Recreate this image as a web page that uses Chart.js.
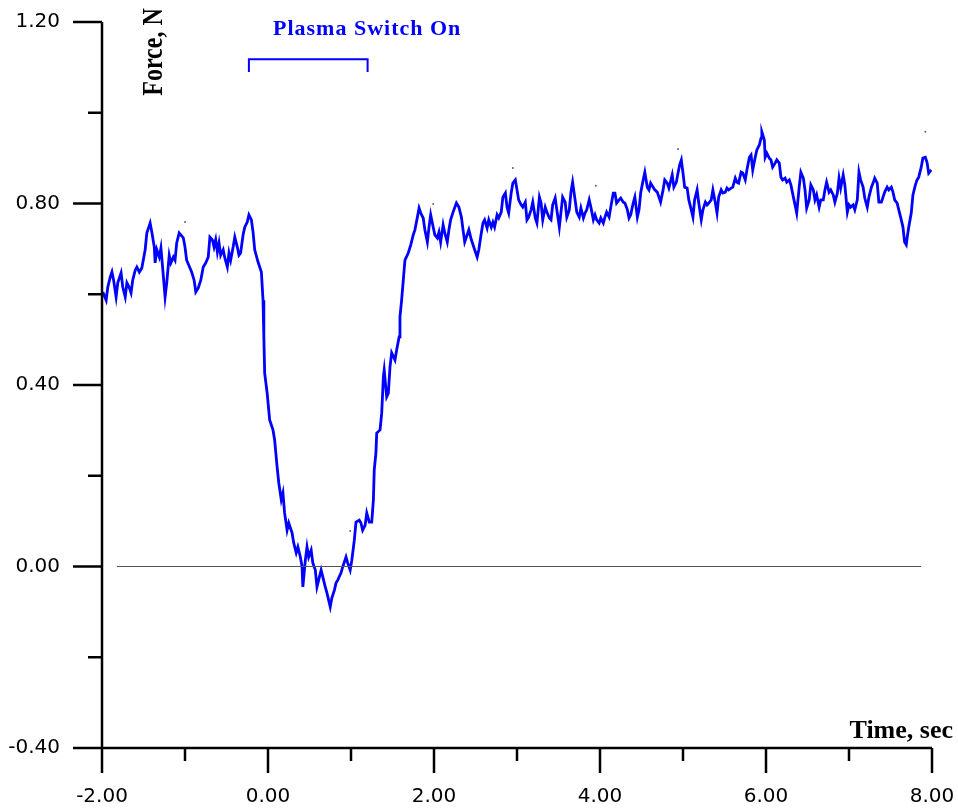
<!DOCTYPE html>
<html lang="en">
<head>
    <meta charset="UTF-8">
    <title>Force, N vs Time, sec</title>
    <script src="https://cdn.jsdelivr.net/npm/chart.js"></script>
    <style>
* {
    margin: 0;
    padding: 0;
    box-sizing: border-box;
}

body {
    background: #ffffff;
}

#wrap {
    width: 958px;
    height: 811px;
    position: relative;
}
    </style>
</head>
<body>
    <div id="wrap">
        <canvas id="forceChart"></canvas>
    </div>

    <script>
        // time axis, seconds
        const time = [
            -1.99,-1.95,-1.93,-1.90,-1.88,-1.86,-1.83,-1.81,-1.77,-1.75,
            -1.72,-1.70,-1.67,-1.65,-1.63,-1.60,-1.58,-1.55,-1.52,-1.48,
            -1.46,-1.42,-1.40,-1.37,-1.36,-1.34,-1.31,-1.29,-1.27,-1.24,
            -1.22,-1.19,-1.17,-1.14,-1.12,-1.10,-1.07,-1.05,-1.02,-1.00,
            -0.98,-0.94,-0.92,-0.89,-0.87,-0.84,-0.81,-0.78,-0.75,-0.72,
            -0.70,-0.67,-0.65,-0.63,-0.61,-0.59,-0.57,-0.54,-0.52,-0.49,
            -0.47,-0.45,-0.42,-0.40,-0.37,-0.35,-0.33,-0.30,-0.28,-0.25,
            -0.23,-0.20,-0.18,-0.16,-0.12,-0.08,-0.06,-0.05,-0.04,-0.01,
            0.02,0.06,0.08,0.11,0.13,0.16,0.18,0.20,0.23,0.25,
            0.29,0.31,0.34,0.36,0.39,0.41,0.42,0.45,0.47,0.49,
            0.52,0.54,0.57,0.59,0.61,0.64,0.66,0.69,0.71,0.75,
            0.77,0.80,0.82,0.84,0.88,0.90,0.94,0.96,0.99,1.01,
            1.04,1.06,1.10,1.12,1.14,1.17,1.19,1.22,1.25,1.27,
            1.28,1.30,1.31,1.35,1.37,1.39,1.40,1.43,1.45,1.47,
            1.49,1.53,1.55,1.58,1.59,1.61,1.63,1.65,1.69,1.72,
            1.75,1.77,1.80,1.82,1.84,1.87,1.89,1.92,1.94,1.96,
            1.99,2.01,2.04,2.06,2.08,2.11,2.13,2.16,2.18,2.20,
            2.23,2.27,2.30,2.33,2.35,2.37,2.40,2.42,2.45,2.47,
            2.49,2.52,2.54,2.57,2.59,2.61,2.64,2.66,2.69,2.71,
            2.73,2.76,2.78,2.81,2.83,2.86,2.88,2.90,2.93,2.95,
            2.98,3.00,3.02,3.05,3.07,3.10,3.12,3.14,3.17,3.19,
            3.22,3.24,3.27,3.29,3.31,3.34,3.36,3.39,3.41,3.43,
            3.46,3.48,3.51,3.53,3.55,3.58,3.60,3.63,3.65,3.67,
            3.70,3.72,3.75,3.77,3.80,3.82,3.84,3.87,3.89,3.92,
            3.94,3.96,3.99,4.01,4.04,4.06,4.08,4.11,4.13,4.16,
            4.18,4.20,4.23,4.25,4.28,4.30,4.33,4.35,4.37,4.40,
            4.42,4.45,4.47,4.49,4.52,4.54,4.57,4.59,4.61,4.64,
            4.66,4.69,4.71,4.73,4.76,4.78,4.81,4.83,4.87,4.89,
            4.92,4.94,4.96,4.98,5.00,5.02,5.05,5.07,5.10,5.12,
            5.14,5.17,5.19,5.22,5.24,5.27,5.29,5.31,5.34,5.36,
            5.39,5.41,5.43,5.46,5.48,5.51,5.53,5.55,5.58,5.60,
            5.63,5.65,5.67,5.70,5.72,5.75,5.77,5.80,5.82,5.84,
            5.87,5.89,5.92,5.94,5.95,5.98,5.99,6.01,6.04,6.06,
            6.08,6.11,6.13,6.16,6.18,6.20,6.23,6.25,6.28,6.30,
            6.33,6.35,6.37,6.40,6.42,6.45,6.47,6.49,6.52,6.54,
            6.57,6.59,6.61,6.64,6.66,6.69,6.71,6.73,6.76,6.78,
            6.81,6.83,6.86,6.88,6.90,6.93,6.95,6.98,7.00,7.02,
            7.05,7.07,7.10,7.12,7.14,7.17,7.19,7.22,7.24,7.27,
            7.29,7.31,7.34,7.36,7.39,7.41,7.43,7.46,7.48,7.51,
            7.53,7.55,7.58,7.60,7.63,7.65,7.67,7.69,7.70,7.72,
            7.75,7.77,7.80,7.82,7.84,7.87,7.89,7.92,7.94,7.96,
            7.99
        ];

        // force, N
        const force = [
            0.605,0.587,0.616,0.638,0.649,0.631,0.594,0.625,0.647,0.616,
            0.594,0.625,0.614,0.603,0.631,0.653,0.660,0.649,0.658,0.698,
            0.735,0.757,0.737,0.704,0.669,0.698,0.682,0.702,0.660,0.594,
            0.625,0.686,0.669,0.682,0.675,0.713,0.735,0.731,0.724,0.704,
            0.675,0.658,0.649,0.631,0.605,0.614,0.631,0.660,0.669,0.682,
            0.726,0.720,0.704,0.720,0.693,0.713,0.686,0.698,0.680,0.660,
            0.691,0.675,0.704,0.726,0.704,0.686,0.691,0.731,0.748,0.759,
            0.775,0.764,0.737,0.698,0.671,0.649,0.587,0.506,0.426,0.382,
            0.323,0.301,0.279,0.219,0.184,0.147,0.162,0.118,0.080,0.096,
            0.074,0.052,0.030,0.043,0.021,0.000,-0.045,0.014,0.043,0.021,
            0.036,0.008,-0.008,-0.045,-0.030,-0.008,-0.023,-0.045,-0.058,-0.089,
            -0.069,-0.052,-0.036,-0.030,-0.014,-0.001,0.021,0.008,-0.008,0.014,
            0.058,0.098,0.102,0.096,0.080,0.091,0.118,0.098,0.098,0.147,
            0.213,0.250,0.294,0.301,0.338,0.418,0.433,0.374,0.382,0.440,
            0.471,0.455,0.477,0.506,0.550,0.587,0.631,0.675,0.691,0.709,
            0.731,0.742,0.770,0.790,0.779,0.768,0.742,0.715,0.748,0.775,
            0.748,0.731,0.724,0.737,0.715,0.753,0.735,0.715,0.742,0.764,
            0.781,0.801,0.792,0.770,0.742,0.715,0.731,0.742,0.720,0.709,
            0.698,0.682,0.698,0.735,0.757,0.764,0.746,0.764,0.748,0.759,
            0.748,0.775,0.768,0.781,0.814,0.823,0.792,0.779,0.823,0.845,
            0.852,0.830,0.808,0.797,0.792,0.803,0.764,0.770,0.786,0.803,
            0.768,0.757,0.814,0.801,0.764,0.792,0.781,0.768,0.764,0.797,
            0.812,0.786,0.748,0.781,0.814,0.803,0.770,0.786,0.825,0.847,
            0.808,0.781,0.770,0.790,0.768,0.779,0.786,0.808,0.792,0.764,
            0.775,0.764,0.757,0.768,0.757,0.770,0.781,0.770,0.792,0.823,
            0.823,0.801,0.808,0.812,0.803,0.801,0.786,0.768,0.775,0.801,
            0.814,0.770,0.786,0.823,0.852,0.869,0.836,0.830,0.845,0.836,
            0.830,0.825,0.814,0.803,0.830,0.852,0.845,0.834,0.863,0.836,
            0.847,0.867,0.885,0.896,0.867,0.836,0.834,0.808,0.786,0.770,
            0.808,0.830,0.801,0.764,0.786,0.803,0.797,0.801,0.808,0.830,
            0.801,0.779,0.814,0.830,0.823,0.825,0.834,0.830,0.834,0.836,
            0.856,0.847,0.845,0.869,0.867,0.852,0.874,0.902,0.907,0.874,
            0.902,0.918,0.929,0.944,0.958,0.940,0.902,0.911,0.900,0.896,
            0.880,0.889,0.896,0.889,0.858,0.852,0.856,0.847,0.852,0.841,
            0.814,0.797,0.779,0.836,0.869,0.856,0.830,0.790,0.808,0.841,
            0.830,0.808,0.819,0.792,0.808,0.808,0.830,0.847,0.825,0.830,
            0.819,0.803,0.823,0.856,0.834,0.863,0.841,0.781,0.797,0.792,
            0.797,0.786,0.808,0.869,0.852,0.836,0.812,0.792,0.814,0.836,
            0.845,0.856,0.845,0.803,0.803,0.814,0.825,0.836,0.830,0.836,
            0.825,0.808,0.801,0.786,0.764,0.748,0.715,0.709,0.724,0.748,
            0.779,0.819,0.841,0.852,0.858,0.880,0.900,0.902,0.891,0.867,
            0.874
        ];

        // little grey marks left by the recorder
        const markTime = [-1.00, 0.99, 1.99, 2.95, 3.95, 4.94, 7.92];
        const markForce = [0.759, 0.078, 0.799, 0.878, 0.839, 0.920, 0.958];

        // plasma on / off bracket
        const plasmaOn = -0.23;
        const plasmaOff = 1.20;
        const bracketTop = 1.118;
        const bracketFoot = 1.090;

        // zero reference line
        const zeroFrom = -1.82;
        const zeroTo = 7.87;

        // ticks
        const xMajor = [-2, 0, 2, 4, 6, 8];
        const xMinor = [-1, 1, 3, 5, 7];
        const yMajor = [-0.4, 0, 0.4, 0.8, 1.2];
        const yMinor = [-0.2, 0.2, 0.6, 1.0];

        const points = time.map((t, i) => ({ x: t, y: force[i] }));
        const marks = markTime.map((t, i) => ({ x: t, y: markForce[i] }));

        const axisDecor = {
            id: 'axisDecor',
            afterDraw(chart) {
                const ctx = chart.ctx;
                const xs = chart.scales.x;
                const ys = chart.scales.y;
                const left = xs.getPixelForValue(-2);
                const bottom = ys.getPixelForValue(-0.4);
                const top = ys.getPixelForValue(1.2);
                const right = xs.getPixelForValue(8);

                ctx.save();
                ctx.strokeStyle = '#000';
                ctx.lineWidth = 2.5;
                ctx.beginPath();
                // axis lines
                ctx.moveTo(left, top);
                ctx.lineTo(left, bottom);
                ctx.moveTo(left, bottom);
                ctx.lineTo(right, bottom);
                // y ticks
                yMajor.forEach(v => {
                    const p = ys.getPixelForValue(v);
                    ctx.moveTo(left - 29, p);
                    ctx.lineTo(left, p);
                });
                yMinor.forEach(v => {
                    const p = ys.getPixelForValue(v);
                    ctx.moveTo(left - 14, p);
                    ctx.lineTo(left, p);
                });
                // x ticks
                xMajor.forEach(v => {
                    const p = xs.getPixelForValue(v);
                    ctx.moveTo(p, bottom);
                    ctx.lineTo(p, bottom + 25);
                });
                xMinor.forEach(v => {
                    const p = xs.getPixelForValue(v);
                    ctx.moveTo(p, bottom);
                    ctx.lineTo(p, bottom + 13);
                });
                ctx.stroke();

                // axis titles
                ctx.fillStyle = '#000';
                ctx.font = 'bold 26px "Liberation Serif", serif';
                ctx.textAlign = 'right';
                ctx.textBaseline = 'alphabetic';
                ctx.fillText('Time, sec', right + 21, bottom - 10);

                ctx.save();
                ctx.translate(left + 60, top + 30);
                ctx.rotate(-Math.PI / 2);
                ctx.scale(1, 1.2);
                ctx.font = 'bold 24px "Liberation Serif", serif';
                ctx.textAlign = 'center';
                ctx.fillText('Force, N', 0, 0);
                ctx.restore();

                // annotation
                ctx.fillStyle = '#0000ff';
                ctx.font = 'bold 22px "Liberation Serif", serif';
                ctx.letterSpacing = '1px';
                ctx.textAlign = 'left';
                ctx.fillText('Plasma Switch On', xs.getPixelForValue(0.06), ys.getPixelForValue(1.172));
                ctx.restore();
            }
        };

        const ctx = document.getElementById('forceChart').getContext('2d');
        const chart = new Chart(ctx, {
            type: 'scatter',
            data: {
                datasets: [
                    {
                        label: 'zero',
                        data: [{ x: zeroFrom, y: 0 }, { x: zeroTo, y: 0 }],
                        showLine: true,
                        borderColor: '#555555',
                        borderWidth: 1.2,
                        pointRadius: 0
                    },
                    {
                        label: 'Plasma Switch On',
                        data: [
                            { x: plasmaOn, y: bracketFoot },
                            { x: plasmaOn, y: bracketTop },
                            { x: plasmaOff, y: bracketTop },
                            { x: plasmaOff, y: bracketFoot }
                        ],
                        showLine: true,
                        borderColor: '#0000ff',
                        borderWidth: 2,
                        pointRadius: 0
                    },
                    {
                        label: 'Force',
                        data: points,
                        showLine: true,
                        borderColor: '#0000ff',
                        borderWidth: 2.8,
                        pointRadius: 0,
                        tension: 0
                    },
                    {
                        label: 'marks',
                        data: marks,
                        showLine: false,
                        pointRadius: 1,
                        pointBackgroundColor: '#666666',
                        pointBorderWidth: 0
                    }
                ]
            },
            options: {
                responsive: true,
                maintainAspectRatio: false,
                animation: false,
                layout: { padding: { top: 22, right: 26, left: 0, bottom: 0 } },
                plugins: {
                    legend: { display: false },
                    tooltip: { enabled: false }
                },
                scales: {
                    x: {
                        type: 'linear',
                        min: -2,
                        max: 8,
                        afterBuildTicks: s => { s.ticks = xMajor.map(v => ({ value: v })); },
                        afterFit: s => {
                            s.height = 63;
                            s.paddingLeft = 0;
                            s.paddingRight = 0;
                        },
                        grid: { display: false, drawTicks: false },
                        border: { display: false },
                        ticks: {
                            autoSkip: false,
                            maxRotation: 0,
                            padding: 37,
                            color: '#000',
                            font: { family: 'DejaVu Sans', size: 20 },
                            callback: v => v.toFixed(2)
                        }
                    },
                    y: {
                        type: 'linear',
                        min: -0.4,
                        max: 1.2,
                        afterBuildTicks: s => { s.ticks = yMajor.map(v => ({ value: v })); },
                        afterFit: s => {
                            s.width = 102;
                            s.paddingTop = 0;
                            s.paddingBottom = 0;
                        },
                        grid: { display: false, drawTicks: false },
                        border: { display: false },
                        ticks: {
                            padding: 42,
                            color: '#000',
                            font: { family: 'DejaVu Sans', size: 20 },
                            callback: v => v.toFixed(2)
                        }
                    }
                }
            },
            plugins: [axisDecor]
        });
    </script>
</body>
</html>
